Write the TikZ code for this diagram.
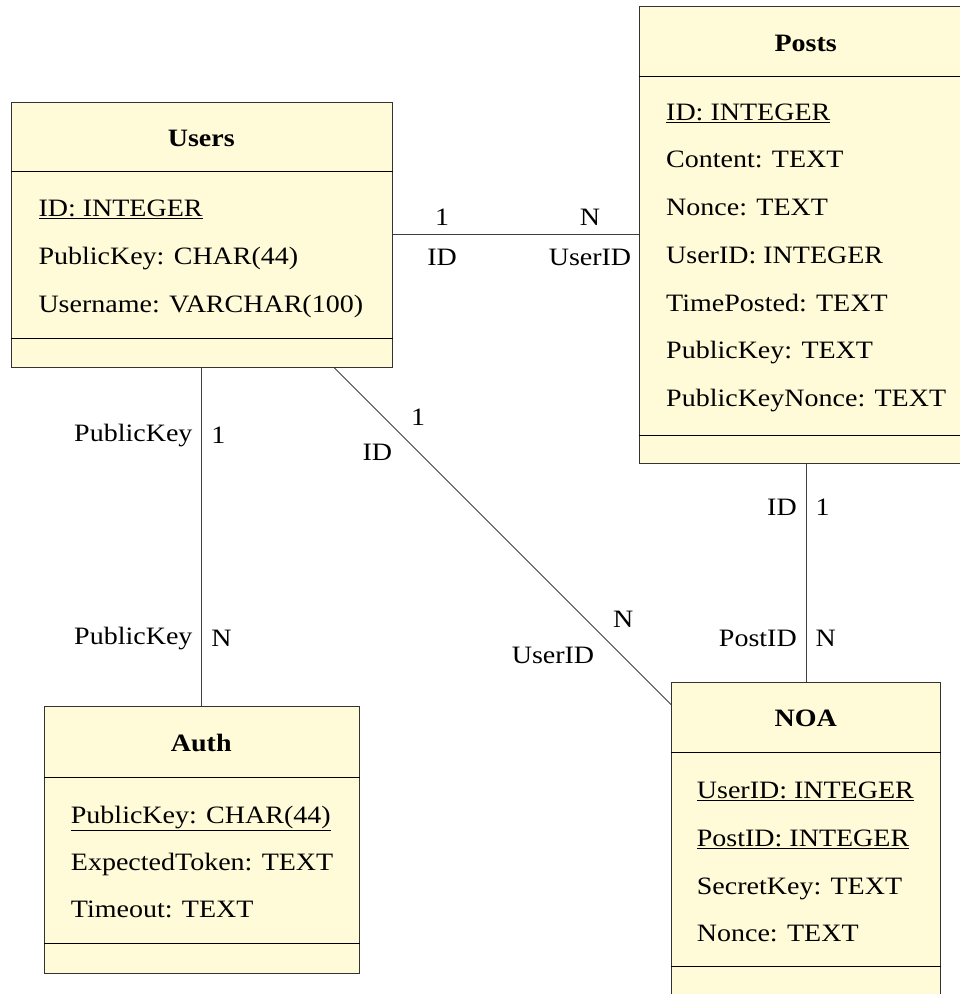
\documentclass[tikz,border=0pt]{standalone}
\usepackage{fontspec}
\setmainfont[FakeStretch=1.12]{Liberation Serif}
\definecolor{entityfill}{RGB}{255,250,215}
\begin{document}
\begin{tikzpicture}[x=1pt,y=-1pt,
  every node/.style={font=\fontsize{25}{29}\selectfont, text=black},
  entity/.style={draw=black!80, fill=entityfill, line width=1.1pt, inner sep=0pt, anchor=north west},
  sep/.style={line width=1pt, black},
  title/.style={anchor=base, font=\fontsize{25}{29}\selectfont\bfseries},
  attr/.style={anchor=base west, inner sep=0pt},
  rel/.style={line width=0.9pt, black!75},
  lab/.style={inner sep=9pt, text=black},
  labbelow/.style={inner sep=9pt, text=black, below, yshift=-5pt},
]
\useasboundingbox (0,0) rectangle (960,994);

% ---- Users ----
\node[entity, minimum width=380.7pt, minimum height=265pt] (users) at (11,101.7) {};
\draw[sep] (users.north west |- 0,171.7) -- (users.north east |- 0,171.7);
\draw[sep] (users.north west |- 0,338.3) -- (users.north east |- 0,338.3);
\node[title] (usersT) at (201.3,146.7) {Users};
\node[attr] (usersA1) at (38.3,216.5) {\underline{ID: INTEGER}};
\node[attr] (usersA2) at (38.3,264.2) {PublicKey: CHAR(44)};
\node[attr] (usersA3) at (38.3,312) {Username: VARCHAR(100)};

% ---- Posts ----
\node[entity, minimum width=332.7pt, minimum height=457pt] (posts) at (639.3,5.7) {};
\draw[sep] (posts.north west |- 0,76) -- (posts.north east |- 0,76);
\draw[sep] (posts.north west |- 0,435) -- (posts.north east |- 0,435);
\node[title] (postsT) at (805.65,51) {Posts};
\node[attr] (postsA1) at (666,120) {\underline{ID: INTEGER}};
\node[attr] (postsA2) at (666,167.75) {Content: TEXT};
\node[attr] (postsA3) at (666,215.5) {Nonce: TEXT};
\node[attr] (postsA4) at (666,263.25) {UserID: INTEGER};
\node[attr] (postsA5) at (666,311) {TimePosted: TEXT};
\node[attr] (postsA6) at (666,358.75) {PublicKey: TEXT};
\node[attr] (postsA7) at (666,406.5) {PublicKeyNonce: TEXT};

% ---- Auth ----
\node[entity, minimum width=314.7pt, minimum height=266.7pt] (auth) at (44,706) {};
\draw[sep] (auth.north west |- 0,777.3) -- (auth.north east |- 0,777.3);
\draw[sep] (auth.north west |- 0,943.3) -- (auth.north east |- 0,943.3);
\node[title] (authT) at (201.3,751) {Auth};
\node[attr] (authA1) at (70.7,823.3) {\underline{PublicKey: CHAR(44)}};
\node[attr] (authA2) at (70.7,870.5) {ExpectedToken: TEXT};
\node[attr] (authA3) at (70.7,917.7) {Timeout: TEXT};

% ---- NOA ----
\node[entity, minimum width=269.3pt, minimum height=312.7pt] (noa) at (671,682.3) {};
\draw[sep] (noa.north west |- 0,752.3) -- (noa.north east |- 0,752.3);
\draw[sep] (noa.north west |- 0,966.7) -- (noa.north east |- 0,966.7);
\node[title] (noaT) at (805.65,726.7) {NOA};
\node[attr] (noaA1) at (696.7,798.3) {\underline{UserID: INTEGER}};
\node[attr] (noaA2) at (696.7,846.2) {\underline{PostID: INTEGER}};
\node[attr] (noaA3) at (696.7,894) {SecretKey: TEXT};
\node[attr] (noaA4) at (696.7,941.7) {Nonce: TEXT};

% ---- relationships ----
\draw[rel] (users) --
  node[lab, pos=.2, above] {1}
  node[labbelow, pos=.2] {ID}
  node[lab, pos=.8, above] {N}
  node[labbelow, pos=.8] {UserID}
  (posts);
\draw[rel] (users) --
  node[lab, pos=.2, left] {PublicKey}
  node[lab, pos=.2, right] {1}
  node[lab, pos=.8, left] {PublicKey}
  node[lab, pos=.8, right] {N}
  (auth);
\draw[rel] (users) --
  node[lab, pos=.2, above right] {1}
  node[lab, pos=.2, below left] {ID}
  node[lab, pos=.8, above right] {N}
  node[lab, pos=.8, below left] {UserID}
  (noa);
\draw[rel] (posts) --
  node[lab, pos=.2, left] {ID}
  node[lab, pos=.2, right] {1}
  node[lab, pos=.8, left] {PostID}
  node[lab, pos=.8, right] {N}
  (noa);
\end{tikzpicture}
\end{document}
